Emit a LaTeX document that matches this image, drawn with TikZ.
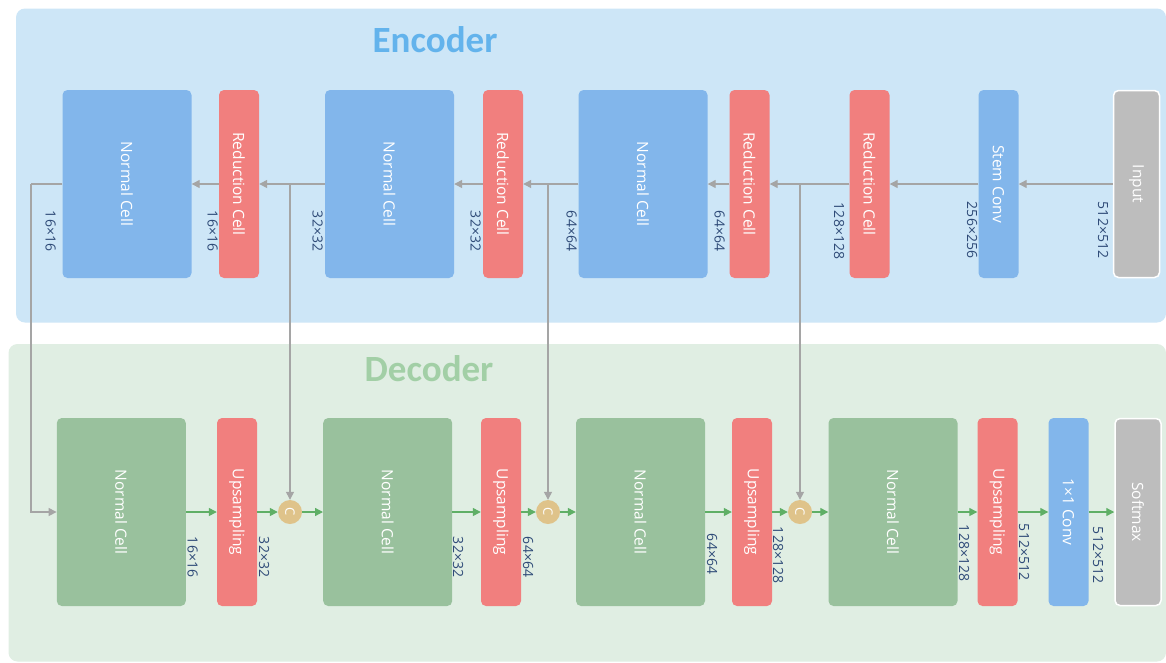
\documentclass[tikz,border=0pt]{standalone}
\usepackage{graphicx}
\usepackage{fontspec}
\setmainfont{Open Sans}
\newfontfamily\titlefont{Carlito}
\usetikzlibrary{arrows.meta}

\definecolor{encbg}{HTML}{CDE6F7}
\definecolor{decbg}{HTML}{E0EEE3}
\definecolor{bluebox}{HTML}{82B6EB}
\definecolor{redbox}{HTML}{F17F7E}
\definecolor{greenbox}{HTML}{99C19D}
\definecolor{graybox}{HTML}{BDBDBD}
\definecolor{catc}{HTML}{DFC38A}
\definecolor{arrgray}{HTML}{A5A5A5}
\definecolor{arrgreen}{HTML}{5FAF66}
\definecolor{dimtext}{HTML}{2F4B78}
\definecolor{enctitle}{HTML}{63B3EC}
\definecolor{dectitle}{HTML}{A2CFA6}

\newcommand\vtext[1]{\rotatebox{-90}{#1}}

\begin{document}
\begin{tikzpicture}[x=1pt,y=-1pt,
  cellbox/.style={rounded corners=5pt, text=white, inner sep=0pt,
    minimum height=188pt, font=\fontsize{15.5}{16}\selectfont},
  wide/.style={cellbox, minimum width=129pt},
  narrow/.style={cellbox, minimum width=40pt},
  bluecell/.style={fill=bluebox},
  redcell/.style={fill=redbox},
  greencell/.style={fill=greenbox},
  graycell/.style={fill=graybox, draw=white, line width=1.5pt},
  catnode/.style={circle, fill=catc, minimum size=24pt, inner sep=0pt, text=white,
    font=\fontsize{13}{14}\selectfont},
  dimlabel/.style={inner sep=0pt, text=dimtext, font=\fontsize{14}{15}\selectfont},
  garrow/.style={draw=arrgray, line width=1.3pt, -{Triangle[length=8pt,width=8pt]}},
  gline/.style={draw=arrgray, line width=1.3pt},
  narrow2/.style={draw=arrgreen, line width=1.3pt, -{Triangle[length=8pt,width=8pt]}},
  paneltitle/.style={inner sep=0pt, anchor=base, font=\titlefont\bfseries\fontsize{37}{40}\selectfont}
]
\clip (0,0) rectangle (1166,662);
\fill[white] (0,0) rectangle (1166,662);

% panels
\fill[encbg, rounded corners=9pt] (16,8.5) rectangle (1166,322.5);
\fill[decbg, rounded corners=9pt] (8.5,344) rectangle (1166,661.5);

\node[paneltitle, text=enctitle] (enct) at (435,52) {Encoder};
\node[paneltitle, text=dectitle] (dect) at (429,381) {Decoder};

% encoder row
\node[wide, bluecell] (E1) at (127,184) {\vtext{Normal Cell}};
\node[narrow, redcell] (R1) at (239,184) {\vtext{Reduction Cell}};
\node[wide, bluecell] (E2) at (389.5,184) {\vtext{Normal Cell}};
\node[narrow, redcell] (R2) at (503,184) {\vtext{Reduction Cell}};
\node[wide, bluecell] (E3) at (643,184) {\vtext{Normal Cell}};
\node[narrow, redcell] (R3) at (749.5,184) {\vtext{Reduction Cell}};
\node[narrow, redcell] (R4) at (869.5,184) {\vtext{Reduction Cell}};
\node[narrow, bluecell] (ST) at (998.5,184) {\vtext{Stem Conv}};
\node[cellbox, graycell, minimum width=46pt, minimum height=187pt] (IN) at (1136.5,184) {\vtext{Input}};

% decoder row
\node[wide, greencell] (D1) at (121.3,512) {\vtext{Normal Cell}};
\node[narrow, redcell] (U1) at (237,512) {\vtext{Upsampling}};
\node[catnode] (C1) at (290,512) {\vtext{C}};
\node[wide, greencell] (D2) at (387.7,512) {\vtext{Normal Cell}};
\node[narrow, redcell] (U2) at (501,512) {\vtext{Upsampling}};
\node[catnode] (C2) at (548,512) {\vtext{C}};
\node[wide, greencell] (D3) at (640.5,512) {\vtext{Normal Cell}};
\node[narrow, redcell] (U3) at (752,512) {\vtext{Upsampling}};
\node[catnode] (C3) at (800,512) {\vtext{C}};
\node[wide, greencell] (D4) at (893,512) {\vtext{Normal Cell}};
\node[narrow, redcell] (U4) at (997.5,512) {\vtext{Upsampling}};
\node[narrow, bluecell] (CV) at (1068.5,512) {\vtext{1×1 Conv}};
\node[cellbox, graycell, minimum width=46pt, minimum height=187pt] (SM) at (1138,512) {\vtext{Softmax}};

% skip connections
\coordinate (k1) at (31,184);
\draw[gline] (E1.west) -- (k1);
\draw[garrow] (k1) |- (D1.west);
\draw[garrow] (E2.west) -| (C1.north);
\draw[garrow] (E3.west) -| (C2.north);
\draw[garrow] (R4.west) -| (C3.north);

% encoder arrows
\draw[garrow] (IN.west) -- (ST.east);
\draw[garrow] (ST.west) -- (R4.east);
\draw[garrow] (R4.west) -- (R3.east);
\draw[garrow] (R3.west) -- (E3.east);
\draw[garrow] (E3.west) -- (R2.east);
\draw[garrow] (R2.west) -- (E2.east);
\draw[garrow] (E2.west) -- (R1.east);
\draw[garrow] (R1.west) -- (E1.east);

% decoder arrows
\draw[narrow2] (D1.east) -- (U1.west);
\draw[narrow2] (U1.east) -- (C1.west);
\draw[narrow2] (C1.east) -- (D2.west);
\draw[narrow2] (D2.east) -- (U2.west);
\draw[narrow2] (U2.east) -- (C2.west);
\draw[narrow2] (C2.east) -- (D3.west);
\draw[narrow2] (D3.east) -- (U3.west);
\draw[narrow2] (U3.east) -- (C3.west);
\draw[narrow2] (C3.east) -- (D4.west);
\draw[narrow2] (D4.east) -- (U4.west);
\draw[narrow2] (U4.east) -- (CV.west);
\draw[narrow2] (CV.east) -- (SM.west);

% encoder size labels
\node[dimlabel] (l1) at (50.5,231) {\vtext{16×16}};
\node[dimlabel] (l2) at (212.5,231) {\vtext{16×16}};
\node[dimlabel] (l3) at (317.5,231) {\vtext{32×32}};
\node[dimlabel] (l4) at (475.5,231) {\vtext{32×32}};
\node[dimlabel] (l5) at (571.5,231) {\vtext{64×64}};
\node[dimlabel] (l6) at (719.5,231) {\vtext{64×64}};
\node[dimlabel] (l7) at (839,231) {\vtext{128×128}};
\node[dimlabel] (l8) at (972,230) {\vtext{256×256}};
\node[dimlabel] (l9) at (1103,230) {\vtext{512×512}};

% decoder size labels
\node[dimlabel] (m1) at (192.5,557) {\vtext{16×16}};
\node[dimlabel] (m2) at (264,557) {\vtext{32×32}};
\node[dimlabel] (m3) at (458,557) {\vtext{32×32}};
\node[dimlabel] (m4) at (528,557) {\vtext{64×64}};
\node[dimlabel] (m5) at (712,554) {\vtext{64×64}};
\node[dimlabel] (m6) at (778,555) {\vtext{128×128}};
\node[dimlabel] (m7) at (964,553) {\vtext{128×128}};
\node[dimlabel] (m8) at (1024,552) {\vtext{512×512}};
\node[dimlabel] (m9) at (1098,555) {\vtext{512×512}};
\end{tikzpicture}
\end{document}
